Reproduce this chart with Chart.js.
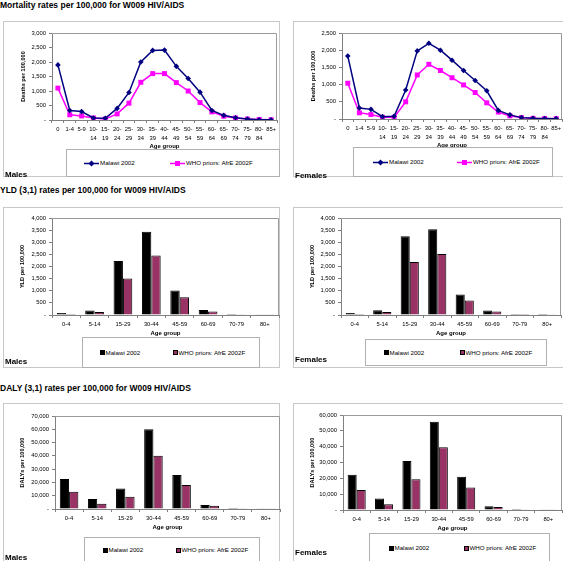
<!DOCTYPE html>
<html>
<head>
<meta charset="utf-8">
<script src="https://cdn.jsdelivr.net/npm/chart.js@4.4.1/dist/chart.umd.min.js"></script>
<style>
    body { margin: 0; width: 563px; height: 561px; overflow: hidden; background: #fff; position: relative; font-family: "Liberation Sans", Arial, sans-serif; }
    .title { position: absolute; left: 0; font-size: 8.5px; font-weight: bold; color: #000; white-space: nowrap; line-height: 10px; }
    .frame { position: absolute; border: 1px solid #c8c8c8; box-sizing: border-box; }
    .frame canvas { position: absolute; left: 0; top: 0; }
    .legend { position: absolute; border: 1px solid #b0b0b0; box-sizing: border-box; background: #fff; }
    .item { position: absolute; font-size: 6.2px; line-height: 8px; white-space: nowrap; color: #000; }
    .sex { position: absolute; font-size: 8px; font-weight: bold; line-height: 10px; }
</style>
</head>
<body>
<div class="title" style="top:0px">Mortality rates per 100,000 for W009 HIV/AIDS</div>
<div class="title" style="top:185px">YLD (3,1) rates per 100,000 for W009 HIV/AIDS</div>
<div class="title" style="top:383px">DALY (3,1) rates per 100,000 for W009 HIV/AIDS</div>
<script>
const ageGroups5 = ['0', '1-4', '5-9', '10-14', '15-19', '20-24', '25-29', '30-34', '35-39', '40-44',
    '45-49', '50-54', '55-59', '60-64', '65-69', '70-74', '75-79', '80-84', '85+']
const ageGroupsBroad = ['0-4', '5-14', '15-29', '30-44', '45-59', '60-69', '70-79', '80+']

const seriesNames = ['Malawi 2002', 'WHO priors: AfrE 2002F']

const mortMalawiMales = [1900, 330, 290, 70, 60, 400, 950, 2000, 2400, 2410, 1850, 1430, 960, 330, 160, 80, 35, 10, 10]
const mortWhoMales = [1100, 180, 140, 70, 35, 210, 580, 1300, 1600, 1600, 1290, 1000, 600, 280, 130, 70, 35, 20, 10]
const mortMalawiFemales = [1830, 320, 280, 68, 78, 843, 1980, 2200, 2000, 1710, 1410, 1120, 820, 250, 120, 40, 20, 15, 10]
const mortWhoFemales = [1040, 180, 130, 50, 48, 500, 1280, 1590, 1410, 1200, 990, 770, 470, 200, 90, 40, 20, 15, 10]

const yldMalawiMales = [80, 190, 2230, 3430, 1010, 210, 40, 30]
const yldWhoMales = [40, 120, 1510, 2450, 730, 140, 30, 30]
const yldMalawiFemales = [80, 200, 3250, 3540, 850, 190, 40, 40]
const yldWhoFemales = [40, 120, 2190, 2520, 600, 140, 40, 35]

const dalyMalawiMales = [22500, 7500, 15500, 60000, 25500, 3000, 800, 100]
const dalyWhoMales = [13000, 4000, 9200, 40000, 18000, 2500, 500, 100]
const dalyMalawiFemales = [22200, 7200, 31000, 55800, 21000, 2400, 700, 100]
const dalyWhoFemales = [12700, 3700, 19500, 39700, 14200, 1900, 500, 100]

const panels = [
    { type: 'line', labels: ageGroups5, data: [mortMalawiMales, mortWhoMales], max: 3000, step: 500, yTitle: 'Deaths per 100,000', sex: 'Males',
      frame: [3, 21, 277, 156], plot: [51, 32, 278, 119], legend: [66, 149, 214, 28], items: [84, 170], sexPos: [5, 170] },
    { type: 'line', labels: ageGroups5, data: [mortMalawiFemales, mortWhoFemales], max: 2500, step: 500, yTitle: 'Deaths per 100,000', sex: 'Females',
      frame: [293, 21, 280, 156], plot: [341, 32, 561, 118], legend: [353, 147, 200, 30], items: [373, 457], sexPos: [295, 171] },
    { type: 'bar', labels: ageGroupsBroad, data: [yldMalawiMales, yldWhoMales], max: 4000, step: 500, yTitle: 'YLD per 100,000', sex: 'Males',
      frame: [3, 207, 277, 161], plot: [51, 217, 278, 314], legend: [82, 337, 178, 31], items: [100, 173], sexPos: [5, 357] },
    { type: 'bar', labels: ageGroupsBroad, data: [yldMalawiFemales, yldWhoFemales], max: 4000, step: 500, yTitle: 'YLD per 100,000', sex: 'Females',
      frame: [293, 207, 280, 161], plot: [340, 217, 560, 314], legend: [365, 339, 182, 27], items: [384, 460], sexPos: [295, 355] },
    { type: 'bar', labels: ageGroupsBroad, data: [dalyMalawiMales, dalyWhoMales], max: 70000, step: 10000, yTitle: "DALYs per 100,000", sex: 'Males',
      frame: [3, 403, 277, 160], plot: [54, 415, 279, 508], legend: [84, 537, 176, 26], items: [103, 176], sexPos: [5, 553] },
    { type: 'bar', labels: ageGroupsBroad, data: [dalyMalawiFemales, dalyWhoFemales], max: 60000, step: 10000, yTitle: "DALYs per 100,000", sex: 'Females',
      frame: [293, 403, 280, 160], plot: [342, 414, 561, 509], legend: [369, 533, 181, 30], items: [389, 464], sexPos: [295, 548] }
]

const navy = '#000080'
const magenta = '#FF00FF'
const plum = '#993366'

// grey border on top/right of the plot area, like the Excel plot box
const plotBox = {
    id: 'plotBox',
    afterDraw(chart) {
        const { ctx, chartArea: a } = chart
        ctx.save()
        ctx.strokeStyle = '#9a9a9a'
        ctx.lineWidth = 1
        ctx.beginPath()
        ctx.moveTo(a.left, a.top + 0.5)
        ctx.lineTo(a.right - 0.5, a.top + 0.5)
        ctx.lineTo(a.right - 0.5, a.bottom)
        ctx.stroke()
        ctx.restore()
    }
}

function splitAge(label) {
    if (label.length > 3 && label.includes('-') && ageGroups5.includes(label)) {
        const [a, b] = label.split('-')
        return [a + '-', b]
    }
    return label
}

function legendMarker(type, i) {
    if (type === 'line') {
        const color = i === 0 ? navy : magenta
        const mark = i === 0
            ? `<polygon points="7.5,0.5 10.5,3.5 7.5,6.5 4.5,3.5" fill="${color}"/>`
            : `<rect x="5" y="1" width="5" height="5" fill="${color}"/>`
        return `<svg width="15" height="7" style="position:absolute;left:0;top:0.5px"><line x1="0" y1="3.5" x2="15" y2="3.5" stroke="${color}" stroke-width="1.5"/>${mark}</svg>`
    }
    const fill = i === 0 ? '#000' : plum
    return `<svg width="5" height="5" style="position:absolute;left:0;top:1.5px"><rect x="0.5" y="0.5" width="4" height="4" fill="${fill}" stroke="#000" stroke-width="1"/></svg>`
}

panels.forEach(p => {
    const [fx, fy, fw, fh] = p.frame
    const [pl, pt, pr, pb] = p.plot

    const frame = document.createElement('div')
    frame.className = 'frame'
    Object.assign(frame.style, { left: fx + 'px', top: fy + 'px', width: fw + 'px', height: fh + 'px' })
    const canvas = document.createElement('canvas')
    canvas.width = fw
    canvas.height = fh
    canvas.style.width = fw + 'px'
    canvas.style.height = fh + 'px'
    frame.appendChild(canvas)
    document.body.appendChild(frame)

    const [lx, ly, lw, lh] = p.legend
    const legend = document.createElement('div')
    legend.className = 'legend'
    Object.assign(legend.style, { left: lx + 'px', top: ly + 'px', width: lw + 'px', height: lh + 'px' })
    document.body.appendChild(legend)
    seriesNames.forEach((name, i) => {
        const item = document.createElement('div')
        item.className = 'item'
        const off = p.type === 'line' ? 16 : 5.5
        item.style.left = (p.items[i] - lx - 1) + 'px'
        item.style.top = (lh / 2 - 5) + 'px'
        item.innerHTML = legendMarker(p.type, i) + `<span style="position:absolute;left:${off}px;top:0">${name}</span>`
        legend.appendChild(item)
    })

    const sex = document.createElement('div')
    sex.className = 'sex'
    sex.textContent = p.sex
    sex.style.left = p.sexPos[0] + 'px'
    sex.style.top = p.sexPos[1] + 'px'
    document.body.appendChild(sex)

    const axisH = p.type === 'line' ? 30 : 22
    const yWidth = pl - fx
    const datasets = p.data.map((values, i) => {
        if (p.type === 'line') {
            return {
                label: seriesNames[i],
                data: values,
                borderColor: i === 0 ? navy : magenta,
                backgroundColor: i === 0 ? navy : magenta,
                borderWidth: 1.5,
                pointStyle: i === 0 ? 'rectRot' : 'rect',
                pointRadius: i === 0 ? 2.8 : 3.5,
                pointBorderWidth: 0,
                tension: 0
            }
        }
        return {
            label: seriesNames[i],
            data: values,
            backgroundColor: i === 0 ? '#000' : plum,
            borderColor: '#000',
            borderWidth: 1,
            categoryPercentage: 0.66,
            barPercentage: 1.0
        }
    })

    new Chart(canvas, {
        type: p.type,
        data: { labels: p.labels, datasets },
        plugins: [plotBox],
        options: {
            responsive: false,
            animation: false,
            devicePixelRatio: 1,
            layout: {
                padding: { left: 0, top: pt - fy, right: fx + fw - pr, bottom: fy + fh - pb - axisH }
            },
            plugins: { legend: { display: false }, tooltip: { enabled: false } },
            scales: {
                x: {
                    offset: true,
                    afterFit: scale => { scale.height = axisH },
                    border: { color: '#808080', width: 1 },
                    grid: { offset: true, drawOnChartArea: false, tickLength: 3, color: '#808080' },
                    ticks: {
                        autoSkip: false, maxRotation: 0, minRotation: 0, padding: 2, color: '#000',
                        font: { family: 'Liberation Sans', size: 5.8, lineHeight: 1.55 },
                        callback: function (v) { return splitAge(this.getLabelForValue(v)) }
                    },
                    title: {
                        display: true, text: 'Age group', color: '#000',
                        font: { family: 'Liberation Sans', size: 6, weight: 'bold', lineHeight: 1.2 },
                        padding: { top: 0, bottom: 0 }
                    }
                },
                y: {
                    min: 0, max: p.max,
                    afterFit: scale => { scale.width = yWidth },
                    border: { color: '#808080', width: 1 },
                    grid: { drawOnChartArea: false, tickLength: 3, color: '#808080' },
                    ticks: {
                        stepSize: p.step, padding: 3, color: '#000',
                        font: { family: 'Liberation Sans', size: 5.8 },
                        callback: v => v === 0 ? '-' : v.toLocaleString('en-US')
                    },
                    title: {
                        display: true, text: p.yTitle, color: '#000',
                        font: { family: 'Liberation Sans', size: 5.6, weight: 'bold', lineHeight: 1.2 },
                        padding: { top: (p.type === 'line' ? 19 : 18) - 3.4, bottom: 0 }
                    }
                }
            }
        }
    })
})
</script>
</body>
</html>
